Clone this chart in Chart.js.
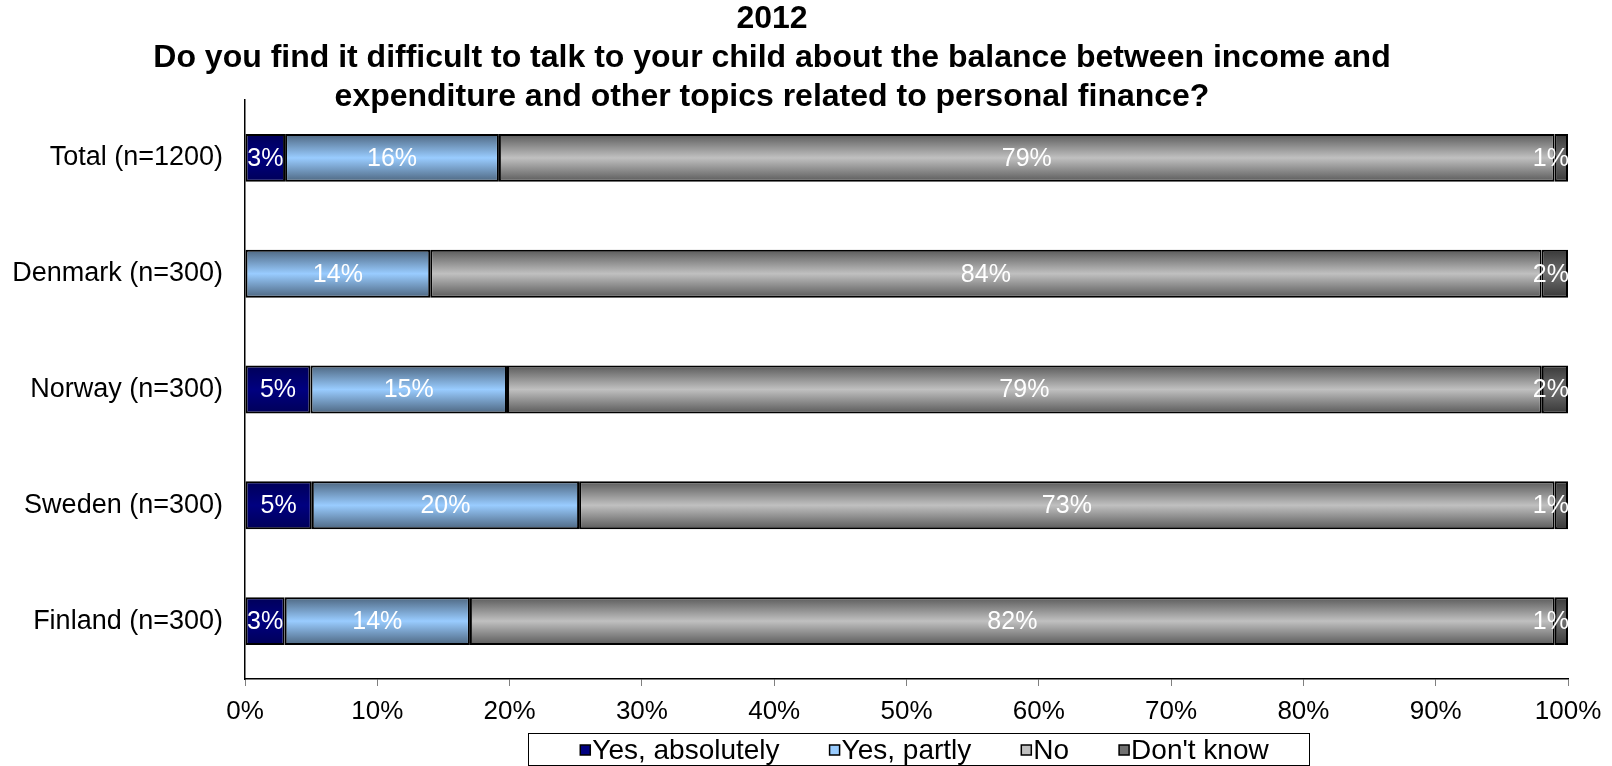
<!DOCTYPE html>
<html>
<head>
<meta charset="utf-8">
<script src="https://cdn.jsdelivr.net/npm/chart.js@4/dist/chart.umd.min.js"></script>
<style>
  html, body { margin: 0; padding: 0; background: #fff; }
  #wrap { width: 1612px; height: 766px; }
</style>
</head>
<body>
<div id="wrap"><canvas id="chart" width="1612" height="766"></canvas></div>
<script>
const CATEGORIES = ['Total (n=1200)', 'Denmark (n=300)', 'Norway (n=300)', 'Sweden (n=300)', 'Finland (n=300)'];
const YES_ABSOLUTELY = [3, 0, 5, 5, 3];
const YES_PARTLY     = [16, 14, 15, 20, 14];
const NO             = [79, 84, 79, 73, 82];
const DONT_KNOW      = [1, 2, 2, 1, 1];
const X_TICKS = [0, 10, 20, 30, 40, 50, 60, 70, 80, 90, 100];

const TITLE = [
  '2012',
  'Do you find it difficult to talk to your child about the balance between income and',
  'expenditure and other topics related to personal finance?'
];

const FONT = 'Arial, "Liberation Sans", sans-serif';
const BAR_PCT = 0.414;

// [edge, middle] colours for the vertical bar shading
const SERIES = [
  { label: 'Yes, absolutely', values: YES_ABSOLUTELY, shade: ['#000058', '#000080'] },
  { label: 'Yes, partly',     values: YES_PARTLY,     shade: ['#4d6680', '#99ccff'] },
  { label: 'No',              values: NO,             shade: ['#5a5a5a', '#c0c0c0'] },
  { label: "Don't know",      values: DONT_KNOW,      shade: ['#383838', '#707070'] },
];

// 100% stacked: each row is scaled to its own total
const rowTotals = CATEGORIES.map((_, i) => SERIES.reduce((s, d) => s + d.values[i], 0));

function shaded(shade) {
  return c => {
    const chart = c.chart, area = chart.chartArea;
    if (!area || !chart.scales.y) return shade[1];
    const y = chart.scales.y.getPixelForValue(c.dataIndex);
    const h = (area.bottom - area.top) / CATEGORIES.length * BAR_PCT / 2;
    const g = chart.ctx.createLinearGradient(0, y - h, 0, y + h);
    g.addColorStop(0, shade[0]);
    g.addColorStop(0.5, shade[1]);
    g.addColorStop(1, shade[0]);
    return g;
  };
}

const titlePlugin = {
  id: 'titleLines',
  afterDraw(chart) {
    const ctx = chart.ctx;
    ctx.save();
    ctx.fillStyle = '#000';
    ctx.font = 'bold 32px ' + FONT;
    ctx.textAlign = 'center';
    ctx.textBaseline = 'middle';
    const ys = [19, 58, 97];
    TITLE.forEach((t, i) => ctx.fillText(t, 772, ys[i]));
    ctx.restore();
  }
};

const valueLabels = {
  id: 'valueLabels',
  afterDatasetsDraw(chart) {
    const ctx = chart.ctx, area = chart.chartArea;
    ctx.save();
    ctx.beginPath();
    ctx.rect(area.left, area.top, area.right - area.left, area.bottom - area.top);
    ctx.clip();
    ctx.fillStyle = '#fff';
    ctx.font = '25px ' + FONT;
    ctx.textAlign = 'center';
    ctx.textBaseline = 'middle';
    chart.data.datasets.forEach((ds, di) => {
      chart.getDatasetMeta(di).data.forEach((bar, i) => {
        const v = ds.rawValues[i];
        if (!v) return;
        const text = v + '%';
        const w = ctx.measureText(text).width;
        // keep labels of the thin end segments inside the plot
        const x = Math.min((bar.x + bar.base) / 2, area.right - w / 2 + 1);
        ctx.fillText(text, x, bar.y + 1);
      });
    });
    ctx.restore();
  }
};

const boxedLegend = {
  id: 'boxedLegend',
  afterDraw(chart) {
    const ctx = chart.ctx;
    const box = { left: 528, top: 733, right: 1309, bottom: 765 };
    ctx.save();
    ctx.strokeStyle = '#000';
    ctx.lineWidth = 1;
    ctx.strokeRect(box.left + 0.5, box.top + 0.5, box.right - box.left, box.bottom - box.top);
    ctx.font = '28px ' + FONT;
    ctx.textBaseline = 'middle';
    const sq = 10, gap = 2, spacing = 50;
    const widths = SERIES.map(s => sq + gap + ctx.measureText(s.label).width);
    const total = widths.reduce((a, b) => a + b, 0) + spacing * (SERIES.length - 1);
    let x = (box.left + box.right) / 2 - total / 2 + 6;
    const cy = 750;
    SERIES.forEach((s, i) => {
      ctx.fillStyle = s.shade[1];
      ctx.fillRect(x, cy - sq / 2, sq, sq);
      ctx.lineWidth = 1.5;
      ctx.strokeRect(x, cy - sq / 2, sq, sq);
      ctx.fillStyle = '#000';
      ctx.fillText(s.label, x + sq + gap, cy + 1);
      x += widths[i] + spacing;
    });
    ctx.restore();
  }
};

new Chart(document.getElementById('chart'), {
  type: 'bar',
  data: {
    labels: CATEGORIES,
    datasets: SERIES.map(s => ({
      label: s.label,
      data: s.values.map((v, i) => v / rowTotals[i] * 100),
      rawValues: s.values,
      backgroundColor: shaded(s.shade),
      borderColor: '#000',
      borderWidth: 2,
      borderSkipped: false,
      barPercentage: BAR_PCT,
      categoryPercentage: 1,
    })),
  },
  options: {
    indexAxis: 'y',
    responsive: false,
    animation: false,
    layout: { padding: { top: 100, right: 44, left: 0, bottom: 0 } },
    plugins: { legend: { display: false }, title: { display: false }, tooltip: { enabled: false } },
    scales: {
      x: {
        stacked: true,
        min: 0,
        max: 100,
        afterBuildTicks: s => { s.ticks = X_TICKS.map(v => ({ value: v })); },
        afterFit: s => { s.height = 87; },
        ticks: { callback: v => v + '%', color: '#000', font: { family: FONT, size: 26 }, padding: 10, maxRotation: 0 },
        grid: { drawOnChartArea: false, drawTicks: true, tickLength: 7, color: '#808080', lineWidth: 1 },
        border: { color: '#000', width: 1.5 },
      },
      y: {
        stacked: true,
        afterFit: s => { s.width = 245; },
        ticks: { color: '#000', font: { family: FONT, size: 27 }, padding: 22 },
        grid: { drawOnChartArea: false, drawTicks: false },
        border: { color: '#000', width: 1.5 },
      },
    },
  },
  plugins: [titlePlugin, valueLabels, boxedLegend],
});
</script>
</body>
</html>
